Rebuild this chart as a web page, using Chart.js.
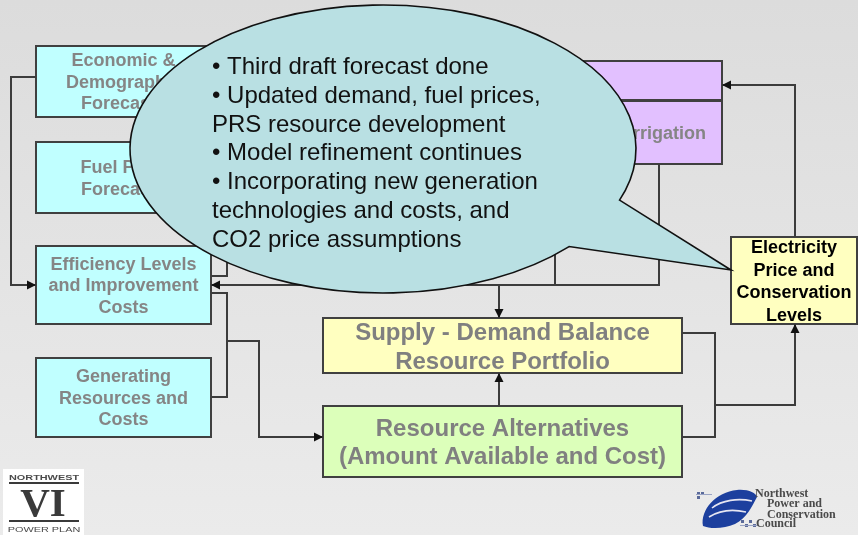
<!DOCTYPE html>
<html>
<head>
<meta charset="utf-8">
<title>Power plan process</title>
<script src="https://cdn.jsdelivr.net/npm/chart.js@4.4.1/dist/chart.umd.min.js"></script>
<style>
  html, body { margin: 0; padding: 0; background: #e2e2e2; }
  #wrap { width: 858px; height: 535px; }
</style>
</head>
<body>
<div id="wrap"><canvas id="flow" width="858" height="535"></canvas></div>
<script>
// ====== 圖表資料（座標單位 = 投影片座標） ======
const boxNames  = ['econ', 'fuel', 'eff', 'gen', 'demand', 'irr', 'supply', 'alt', 'price'];
const boxLabels = [
  ['Economic &', 'Demographic', 'Forecasts'],
  ['Fuel Price', 'Forecasts'],
  ['Efficiency Levels', 'and Improvement', 'Costs'],
  ['Generating', 'Resources and', 'Costs'],
  [],
  ['Irrigation'],
  ['Supply - Demand Balance', 'Resource Portfolio'],
  ['Resource Alternatives', '(Amount Available and Cost)'],
  ['Electricity', 'Price and', 'Conservation', 'Levels']
];
const boxLeft   = [36, 36, 36, 36, 520, 612, 323, 323, 731];
const boxTop    = [46, 142, 246, 358, 61, 101, 318, 406, 237];
const boxRight  = [211, 211, 211, 211, 722, 722, 682, 682, 857];
const boxBottom = [117, 213, 324, 437, 100, 164, 373, 477, 324];
const boxKind   = ['input', 'input', 'input', 'input', 'demand', 'demand', 'balance', 'alt', 'price'];

// 連接線（最後一段有箭頭的標 true）
const linkPaths = [
  [[36, 77], [11, 77], [11, 285], [36, 285]],
  [[211, 81], [227, 81], [227, 276], [211, 276]],
  [[211, 177], [227, 177]],
  [[659, 164], [659, 285], [211, 285]],
  [[555, 200], [555, 285]],
  [[499, 285], [499, 318]],
  [[211, 293], [227, 293], [227, 397], [211, 397]],
  [[227, 341], [259, 341], [259, 437], [323, 437]],
  [[499, 406], [499, 373]],
  [[682, 333], [715, 333], [715, 437], [682, 437]],
  [[715, 405], [795, 405], [795, 324]],
  [[795, 237], [795, 85], [722, 85]]
];
const linkArrow = [true, false, false, true, false, true, false, true, true, false, true, true];

// 對話框
const calloutCenter = [383, 149];
const calloutRadius = [253, 144];
const calloutTail   = [[568, 246], [731, 270], [619, 200]];
const calloutLines = [
  '\u2022 Third draft forecast done',
  '\u2022 Updated demand, fuel prices,',
  'PRS resource development',
  '\u2022 Model refinement continues',
  '\u2022 Incorporating new generation',
  'technologies and costs, and',
  'CO2 price assumptions'
];
const calloutTextLeft = 212;
const calloutFirstLine = 74;

const councilLines = ['Northwest', 'Power and', 'Conservation', 'Council'];

// ====== 樣式 ======
const SANS = '"Liberation Sans", Arial, Helvetica, sans-serif';
const SERIF = '"Liberation Serif", "Times New Roman", serif';
const LINE_COLOR = '#3c3c3c';
const KIND_STYLE = {
  input:   { fill: '#c0ffff', text: '#858585', size: 18, lh: 21.5 },
  demand:  { fill: '#e2c0ff', text: '#858585', size: 18, lh: 21.5 },
  balance: { fill: '#ffffc0', text: '#808080', size: 24, lh: 29 },
  alt:     { fill: '#dcffba', text: '#808080', size: 24, lh: 27.5 },
  price:   { fill: '#ffffc0', text: '#000000', size: 18, lh: 22.5 }
};

const diagramPlugin = {
  id: 'diagram',
  beforeDraw(chart) {
    const { ctx, width, height } = chart;
    const g = ctx.createLinearGradient(0, 0, 0, height);
    g.addColorStop(0, '#dcdcdc');
    g.addColorStop(1, '#ebebeb');
    ctx.save();
    ctx.fillStyle = g;
    ctx.fillRect(0, 0, width, height);
    ctx.restore();
  },
  beforeDatasetsDraw(chart) {
    const { ctx } = chart;
    const sx = chart.scales.x, sy = chart.scales.y;
    ctx.save();
    boxNames.forEach((name, i) => {
      const st = KIND_STYLE[boxKind[i]];
      const x0 = sx.getPixelForValue(boxLeft[i]);
      const x1 = sx.getPixelForValue(boxRight[i]);
      const y0 = sy.getPixelForValue(boxTop[i]);
      const y1 = sy.getPixelForValue(boxBottom[i]);
      ctx.fillStyle = st.fill;
      ctx.fillRect(x0, y0, x1 - x0, y1 - y0);
      ctx.lineWidth = 2;
      ctx.strokeStyle = '#404040';
      ctx.strokeRect(x0, y0, x1 - x0, y1 - y0);

      const lines = boxLabels[i];
      ctx.fillStyle = st.text;
      ctx.font = `bold ${st.size}px ${SANS}`;
      ctx.textAlign = 'center';
      ctx.textBaseline = 'alphabetic';
      const cx = (x0 + x1) / 2, cy = (y0 + y1) / 2;
      const capHalf = st.size * 0.716 / 2;
      lines.forEach((t, k) => {
        const y = cy + (k - (lines.length - 1) / 2) * st.lh + capHalf;
        ctx.fillText(t, cx, y);
      });
    });
    ctx.restore();
  },
  afterDatasetsDraw(chart) {
    const { ctx } = chart;
    const sx = chart.scales.x, sy = chart.scales.y;

    // 箭頭
    ctx.save();
    ctx.fillStyle = '#111';
    linkPaths.forEach((p, i) => {
      if (!linkArrow[i]) return;
      const a = p[p.length - 2], b = p[p.length - 1];
      const ax = sx.getPixelForValue(a[0]), ay = sy.getPixelForValue(a[1]);
      const bx = sx.getPixelForValue(b[0]), by = sy.getPixelForValue(b[1]);
      const ang = Math.atan2(by - ay, bx - ax);
      const len = 9, half = 4.5;
      ctx.beginPath();
      ctx.moveTo(bx, by);
      ctx.lineTo(bx - len * Math.cos(ang) + half * Math.sin(ang), by - len * Math.sin(ang) - half * Math.cos(ang));
      ctx.lineTo(bx - len * Math.cos(ang) - half * Math.sin(ang), by - len * Math.sin(ang) + half * Math.cos(ang));
      ctx.closePath();
      ctx.fill();
    });
    ctx.restore();

    // 對話框
    const cx = sx.getPixelForValue(calloutCenter[0]);
    const cy = sy.getPixelForValue(calloutCenter[1]);
    const rx = sx.getPixelForValue(calloutCenter[0] + calloutRadius[0]) - cx;
    const ry = sy.getPixelForValue(calloutCenter[1] + calloutRadius[1]) - cy;
    const tp = calloutTail.map(q => [sx.getPixelForValue(q[0]), sy.getPixelForValue(q[1])]);
    const angOf = q => Math.atan2((q[1] - cy) / ry, (q[0] - cx) / rx);
    const a0 = angOf(tp[0]);
    const a1 = angOf(tp[2]) + Math.PI * 2;
    ctx.save();
    ctx.beginPath();
    ctx.ellipse(cx, cy, rx, ry, 0, a0, a1, false);
    ctx.lineTo(tp[1][0], tp[1][1]);
    ctx.closePath();
    ctx.fillStyle = '#b9e0e3';
    ctx.fill();
    ctx.lineWidth = 1.6;
    ctx.strokeStyle = '#111';
    ctx.lineJoin = 'miter';
    ctx.stroke();

    ctx.fillStyle = '#111';
    ctx.font = `24px ${SANS}`;
    ctx.textAlign = 'left';
    ctx.textBaseline = 'alphabetic';
    const tx = sx.getPixelForValue(calloutTextLeft);
    calloutLines.forEach((t, k) => {
      ctx.fillText(t, tx, sy.getPixelForValue(calloutFirstLine + k * 28.8));
    });
    ctx.restore();

    drawPlanLogo(ctx);
    drawCouncilLogo(ctx);
  }
};

// ====== 左下角標誌 ======
function drawPlanLogo(ctx) {
  ctx.save();
  ctx.fillStyle = '#ffffff';
  ctx.fillRect(3, 469, 81, 66);
  ctx.fillStyle = '#4a4a4a';
  ctx.textAlign = 'center';
  ctx.textBaseline = 'alphabetic';
  ctx.save();
  ctx.translate(44, 480);
  ctx.scale(1.45, 1);
  ctx.font = `bold 7.5px ${SANS}`;
  ctx.fillText('NORTHWEST', 0, 0);
  ctx.restore();
  ctx.fillStyle = '#3a3a3a';
  ctx.fillRect(9, 482, 70, 2);
  ctx.fillRect(9, 520, 70, 2);
  ctx.font = `bold 41px ${SERIF}`;
  ctx.fillText('VI', 43, 516);
  ctx.fillStyle = '#4a4a4a';
  ctx.save();
  ctx.translate(44, 532);
  ctx.scale(1.45, 1);
  ctx.font = `7.5px ${SANS}`;
  ctx.fillText('POWER PLAN', 0, 0);
  ctx.restore();
  ctx.restore();
}

// ====== 右下角標誌 ======
function drawCouncilLogo(ctx) {
  ctx.save();
  // 格紋小方塊
  ctx.fillStyle = '#5a6a9a';
  [[697, 492], [701, 492], [697, 496], [749, 520], [745, 524], [753, 524], [741, 520]].forEach(q => {
    ctx.fillRect(q[0], q[1], 3, 3);
  });
  ctx.strokeStyle = '#9aa4c4';
  ctx.lineWidth = 1;
  ctx.beginPath();
  ctx.moveTo(696, 494.5); ctx.lineTo(712, 494.5);
  ctx.moveTo(740, 525.5); ctx.lineTo(758, 525.5);
  ctx.stroke();
  // 藍色波浪
  ctx.fillStyle = '#1c3f9e';
  ctx.beginPath();
  ctx.moveTo(703, 526);
  ctx.bezierCurveTo(700, 510, 716, 492, 737, 490);
  ctx.bezierCurveTo(748, 489, 756, 493, 757, 497);
  ctx.bezierCurveTo(752, 506, 747, 518, 735, 524);
  ctx.bezierCurveTo(724, 529, 710, 529, 703, 526);
  ctx.closePath();
  ctx.fill();
  ctx.strokeStyle = '#e6e6f2';
  ctx.lineWidth = 1.6;
  ctx.beginPath();
  ctx.moveTo(712, 508);
  ctx.bezierCurveTo(722, 500, 738, 498, 752, 501);
  ctx.moveTo(709, 517);
  ctx.bezierCurveTo(720, 510, 733, 509, 746, 512);
  ctx.stroke();
  // 文字
  ctx.fillStyle = '#4a4a4a';
  ctx.font = `bold 12px ${SERIF}`;
  ctx.textAlign = 'left';
  ctx.textBaseline = 'alphabetic';
  const tx = [755, 767, 767, 756];
  const ty = [497, 507, 517.5, 527];
  councilLines.forEach((t, k) => ctx.fillText(t, tx[k], ty[k]));
  ctx.restore();
}

// ====== 建立圖表 ======
const datasets = linkPaths.map(p => ({
  data: p.map(q => ({ x: q[0], y: q[1] })),
  showLine: true,
  borderColor: LINE_COLOR,
  borderWidth: 2,
  pointRadius: 0,
  tension: 0,
  fill: false,
  clip: false
}));

new Chart(document.getElementById('flow').getContext('2d'), {
  type: 'scatter',
  data: { datasets },
  options: {
    responsive: false,
    animation: false,
    events: [],
    layout: { padding: 0 },
    plugins: {
      legend: { display: false },
      tooltip: { enabled: false }
    },
    scales: {
      x: { type: 'linear', min: 0, max: 858, display: false },
      y: { type: 'linear', min: 0, max: 535, reverse: true, display: false }
    }
  },
  plugins: [diagramPlugin]
});
</script>
</body>
</html>
